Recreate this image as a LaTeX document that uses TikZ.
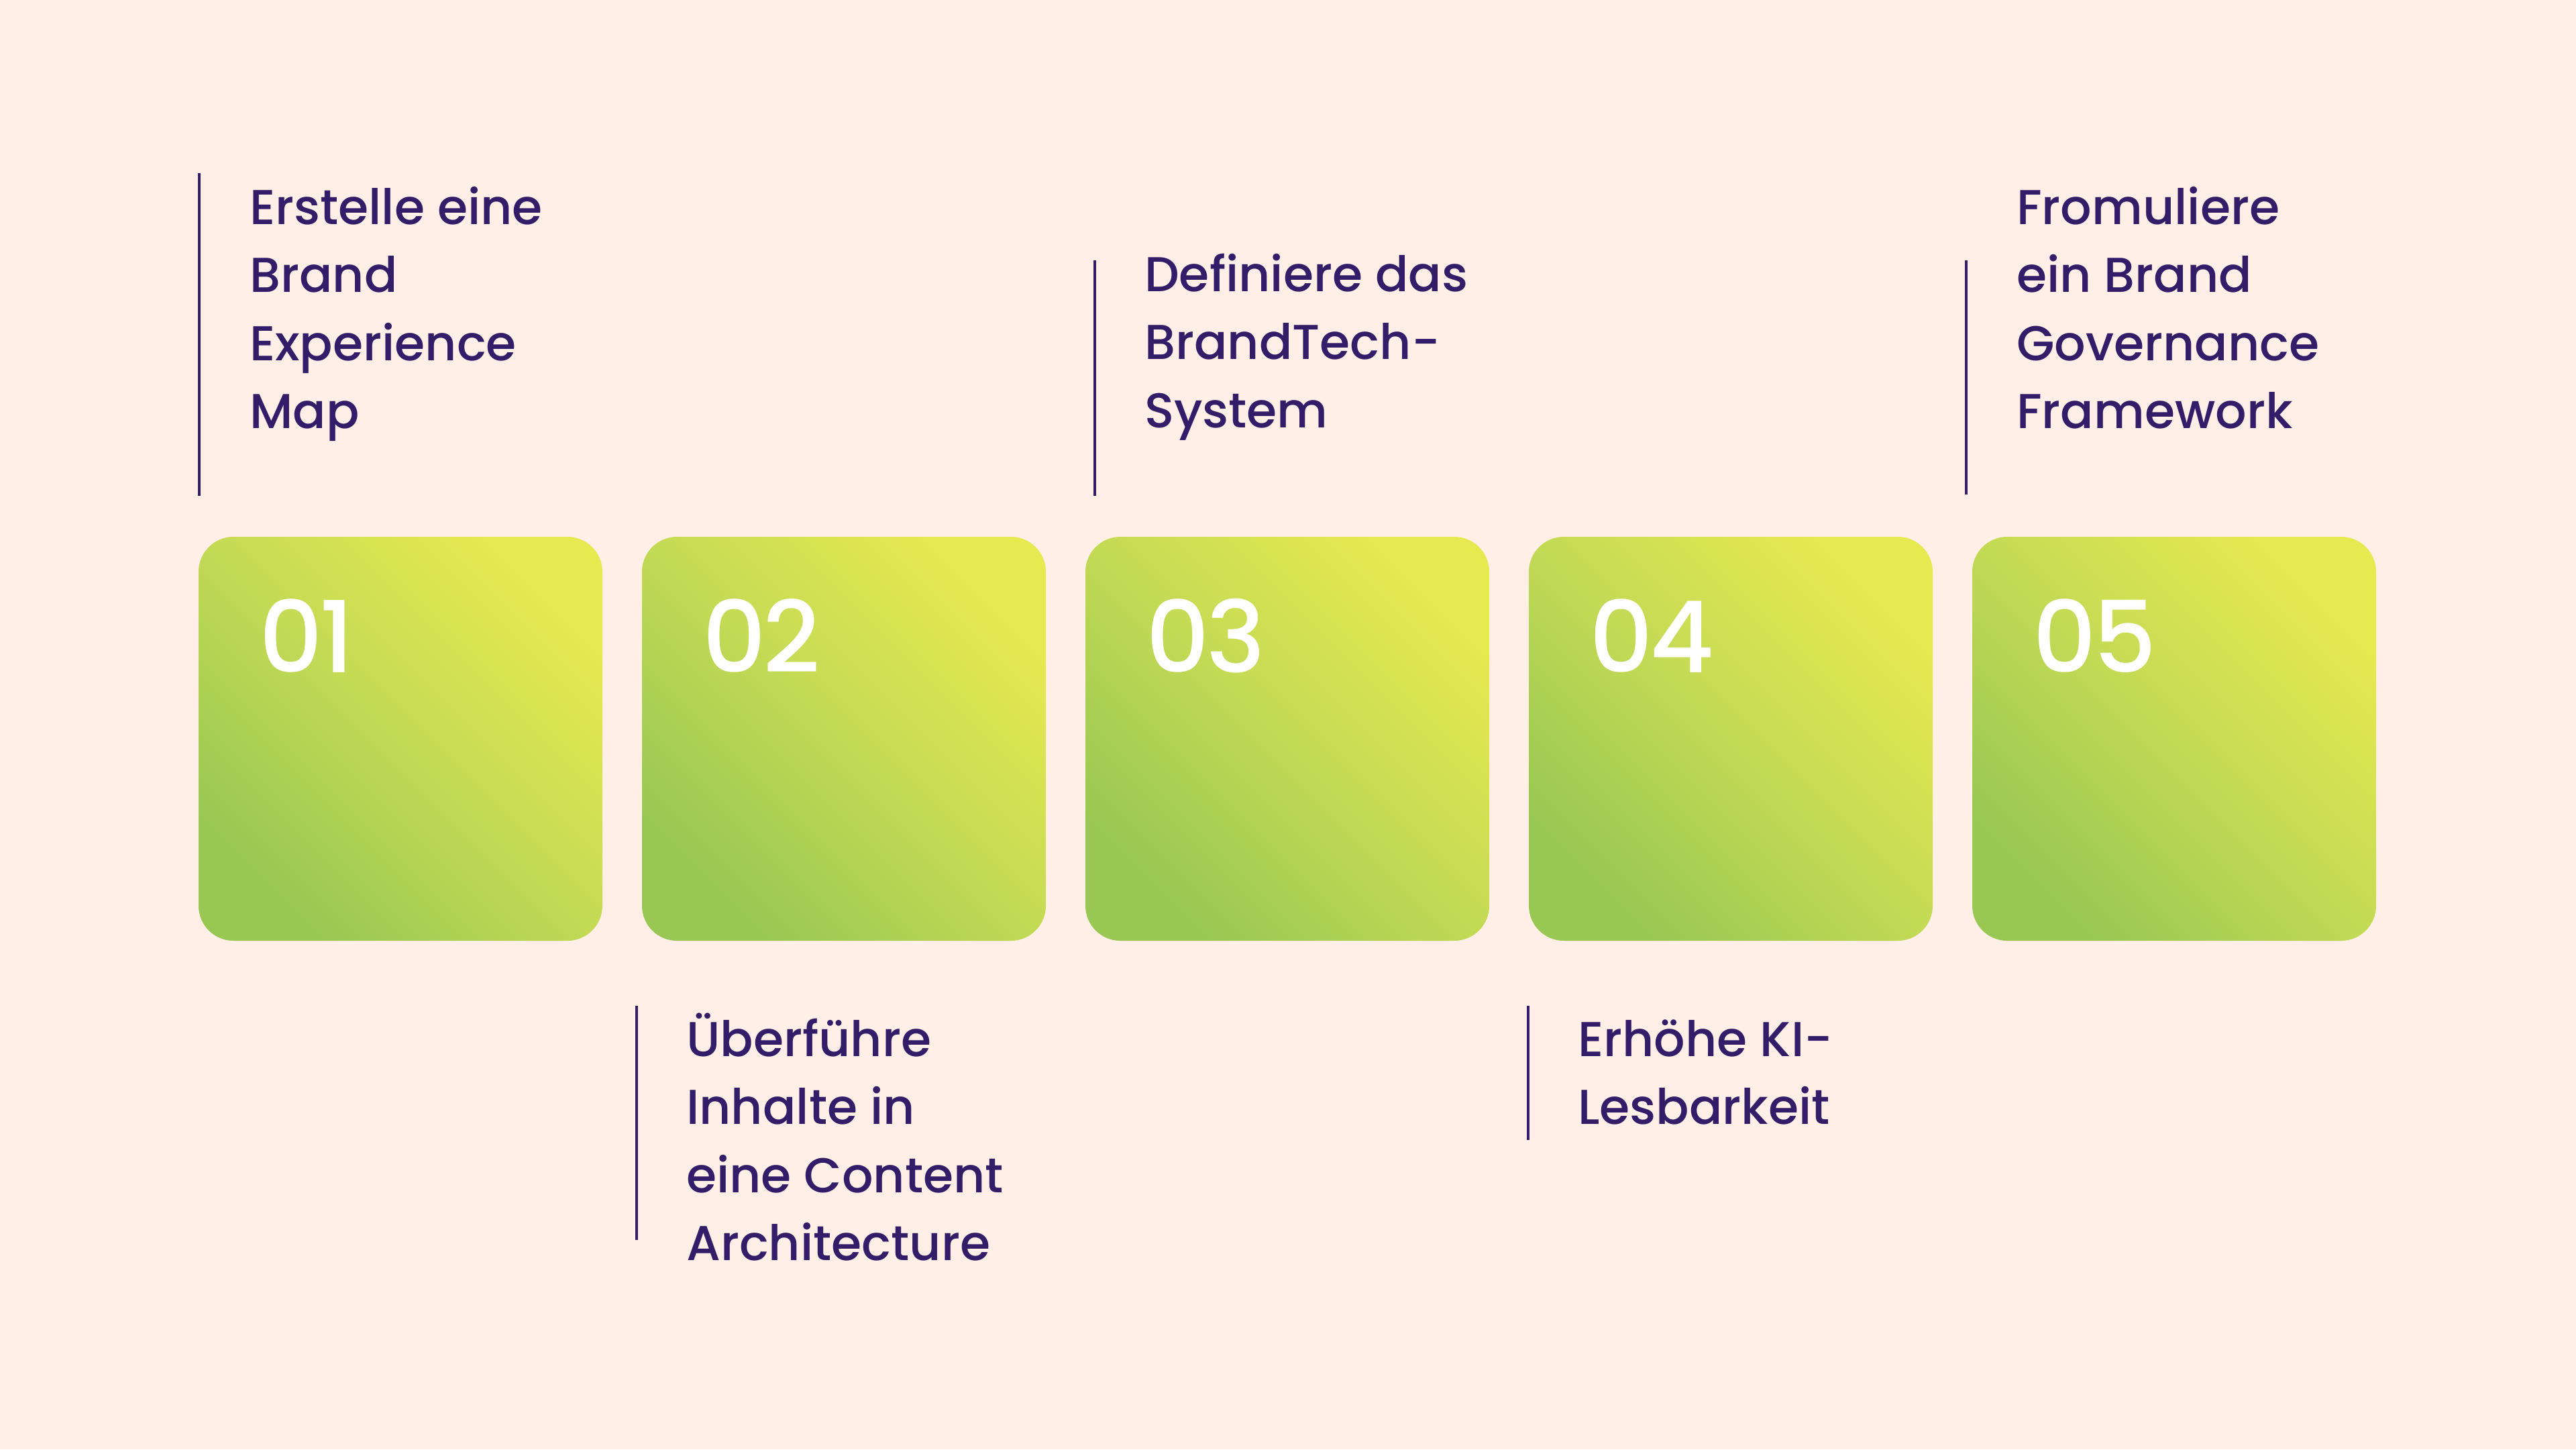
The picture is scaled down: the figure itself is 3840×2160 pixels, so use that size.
\documentclass[tikz,border=0pt]{standalone}
\usepackage{fontspec}
\setmainfont{Poppins}
\newfontfamily\popmed{Poppins Medium}
\definecolor{bg}{HTML}{FFEFE6}
\definecolor{ink}{HTML}{341D68}
\definecolor{gA}{HTML}{98C753}
\definecolor{gM}{HTML}{C3DA55}
\definecolor{gB}{HTML}{E6E950}
\newcommand{\dg}[2]{#1\kern-5pt#2}
\begin{document}
\begin{tikzpicture}[x=1pt,y=-1pt,
  card/.style={rounded corners=52pt, minimum width=602pt, minimum height=602pt, inner sep=0pt,
    bottom color=gA, top color=gB, middle color=gM, shading angle=-45},
  num/.style={anchor=base west, inner sep=0pt, text=white, font=\popmed\fontsize{148}{148}\selectfont},
  lbl/.style={anchor=base west, inner sep=0pt, text=ink, font=\popmed\fontsize{73}{101.5}\selectfont},
  rulel/.style={draw=ink, line width=4pt}]
\useasboundingbox (0,0) rectangle (3840,2160);
\fill[bg] (0,0) rectangle (3840,2160);
% cards
\node[card] (c1) at (597,1101) {};
\node[card] (c2) at (1258,1101) {};
\node[card] (c3) at (1919,1101) {};
\node[card] (c4) at (2580,1101) {};
\node[card] (c5) at (3241,1101) {};
% numbers
\node[num] (n1) at (386,1002) {\dg01};
\node[num] (n2) at (1047,1002) {\dg02};
\node[num] (n3) at (1708,1002) {\dg03};
\node[num] (n4) at (2369,1002) {\dg04};
\node[num] (n5) at (3030,1002) {\dg05};
% rules
\coordinate (r1a) at (297,258);  \coordinate (r1b) at (297,739);
\coordinate (r2a) at (949,1499); \coordinate (r2b) at (949,1848);
\coordinate (r3a) at (1632,388); \coordinate (r3b) at (1632,739);
\coordinate (r4a) at (2278,1499); \coordinate (r4b) at (2278,1699);
\coordinate (r5a) at (2931,388); \coordinate (r5b) at (2931,737);
\draw[rulel] (r1a) -- (r1b);
\draw[rulel] (r2a) -- (r2b);
\draw[rulel] (r3a) -- (r3b);
\draw[rulel] (r4a) -- (r4b);
\draw[rulel] (r5a) -- (r5b);
% labels
\node[lbl] (t1) at (372,334) {\begin{tabular}[t]{@{}l@{}}Erstelle eine\\Brand\\Experience\\Map\end{tabular}};
\node[lbl] (t2) at (1023,1574) {\begin{tabular}[t]{@{}l@{}}Überführe\\Inhalte in\\eine Content\\Architecture\end{tabular}};
\node[lbl] (t3) at (1706,434) {\begin{tabular}[t]{@{}l@{}}Definiere das\\BrandTech-\\System\end{tabular}};
\node[lbl] (t4) at (2352,1574) {\begin{tabular}[t]{@{}l@{}}Erhöhe KI-\\Lesbarkeit\end{tabular}};
\node[lbl] (t5) at (3006,334) {\begin{tabular}[t]{@{}l@{}}Fromuliere\\ein Brand\\Governance\\Framework\end{tabular}};
\end{tikzpicture}
\end{document}
